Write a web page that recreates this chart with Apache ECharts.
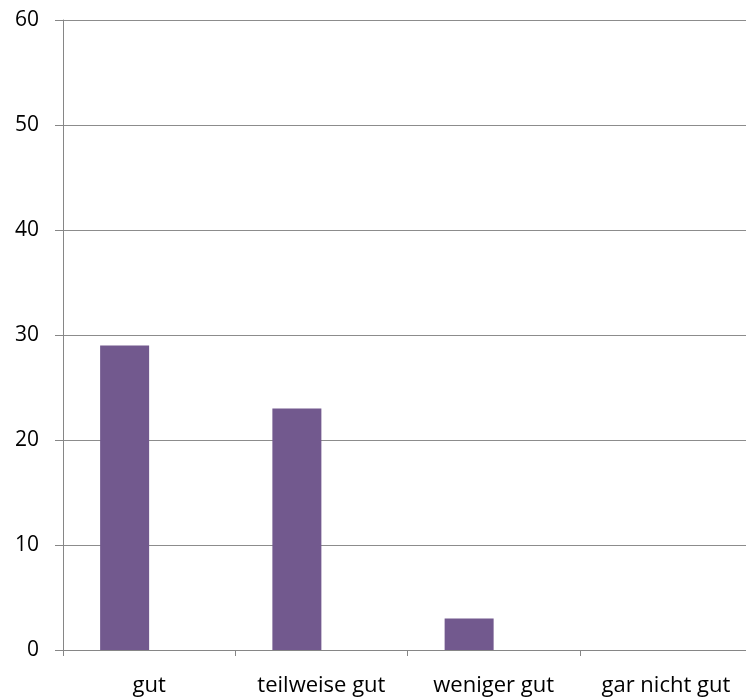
<!DOCTYPE html>
<html>
<head>
<meta charset="utf-8">
<script src="https://cdn.jsdelivr.net/npm/echarts@6/dist/echarts.min.js"></script>
<style>
  html, body { margin: 0; padding: 0; background: #fff; }
  #chart { width: 746px; height: 698px; }
</style>
</head>
<body>
<div id="chart"></div>
<script>
const categories = ['gut', 'teilweise gut', 'weniger gut', 'gar nicht gut']
const answers = [29, 23, 3, 0]
// second (empty) series in the original sheet, keeps the bars left of centre
const emptySeries = [null, null, null, null]

const chart = echarts.init(document.getElementById('chart'))

const font = '"Open Sans", sans-serif'

chart.setOption({
  animation: false,
  grid: {
    left: 63,
    right: -6,
    top: 20,
    bottom: 48,
    outerBoundsMode: 'none'
  },
  xAxis: {
    type: 'category',
    data: categories,
    axisLine: { lineStyle: { color: '#868686', width: 1 } },
    axisTick: { show: true, length: 6, lineStyle: { color: '#868686' } },
    axisLabel: {
      color: '#000',
      fontFamily: font,
      fontSize: 22,
      margin: 25,
      interval: 0
    }
  },
  yAxis: {
    type: 'value',
    min: 0,
    max: 60,
    interval: 10,
    axisLine: { show: true, lineStyle: { color: '#868686', width: 1 } },
    axisTick: { show: true, length: 8, lineStyle: { color: '#868686' } },
    splitLine: { lineStyle: { color: '#8c8c8c', width: 1 } },
    axisLabel: {
      color: '#000',
      fontFamily: font,
      fontSize: 21,
      margin: 24
    }
  },
  series: [
    {
      name: 'Antworten',
      type: 'bar',
      data: answers,
      barWidth: 49,
      barGap: '0%',
      itemStyle: { color: '#72598e' }
    },
    {
      name: 'leer',
      type: 'bar',
      data: emptySeries,
      barWidth: 49,
      itemStyle: { color: '#72598e' }
    }
  ]
})
</script>
</body>
</html>
